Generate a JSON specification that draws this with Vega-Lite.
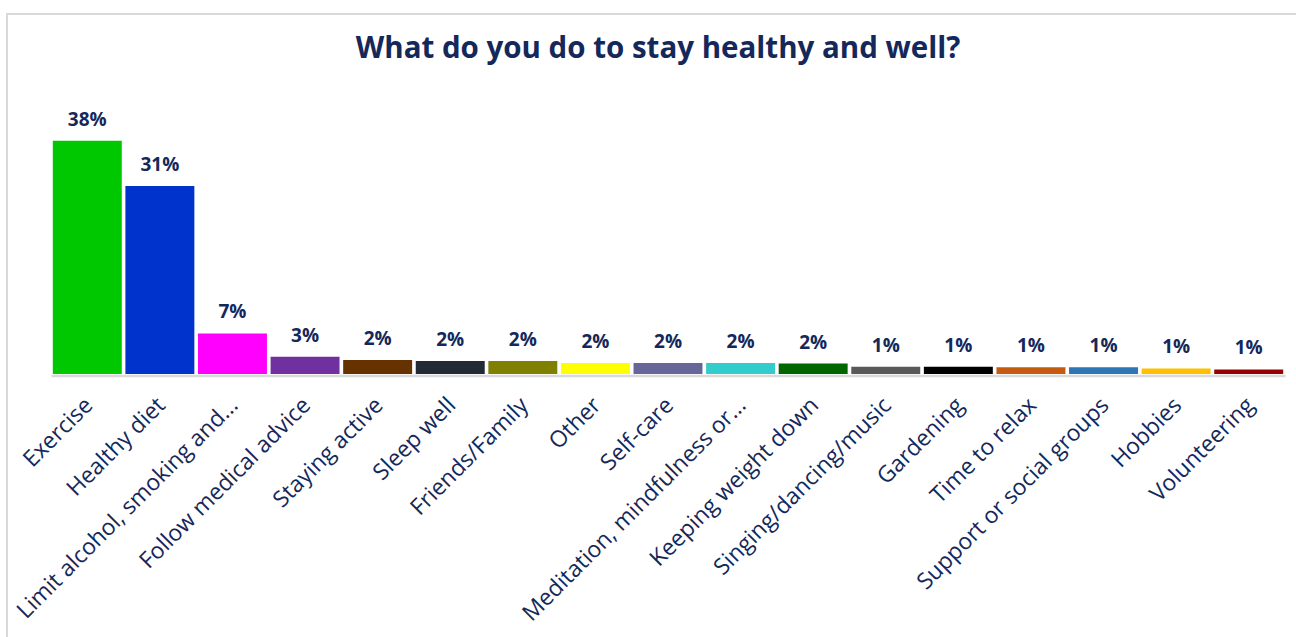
{
  "$schema": "https://vega.github.io/schema/vega-lite/v6.json",
  "autosize": "none",
  "width": 1292,
  "height": 626,
  "padding": {"left": 7, "top": 14, "right": -3, "bottom": -3},
  "background": "white",
  "config": {"view": {"stroke": "#D9D9D9", "strokeWidth": 2}},
  "title": {"text": "What do you do to stay healthy and well?", "font": "Open Sans", "fontSize": 29.5, "fontWeight": "bold", "color": "#14285A", "baseline": "alphabetic", "offset": -73, "anchor": "middle", "frame": "group", "dx": 5},
  "data": {"values": [
    {"cat": "Exercise", "v": 0.38},
    {"cat": "Healthy diet", "v": 0.306},
    {"cat": "Limit alcohol, smoking and...", "v": 0.066},
    {"cat": "Follow medical advice", "v": 0.028},
    {"cat": "Staying active", "v": 0.023},
    {"cat": "Sleep well", "v": 0.021},
    {"cat": "Friends/Family", "v": 0.021},
    {"cat": "Other", "v": 0.018},
    {"cat": "Self-care", "v": 0.018},
    {"cat": "Meditation, mindfulness or...", "v": 0.018},
    {"cat": "Keeping weight down", "v": 0.017},
    {"cat": "Singing/dancing/music", "v": 0.012},
    {"cat": "Gardening", "v": 0.012},
    {"cat": "Time to relax", "v": 0.011},
    {"cat": "Support or social groups", "v": 0.011},
    {"cat": "Hobbies", "v": 0.009},
    {"cat": "Volunteering", "v": 0.0075}
  ]},
  "encoding": {
    "x": {"field": "cat", "type": "nominal", "sort": null,
      "scale": {"range": [44, 1278], "paddingInner": 0.05, "paddingOuter": 0.025},
      "axis": {"title": null, "labelAngle": -45, "labelFont": "Open Sans", "labelFontSize": 22.8, "labelColor": "#14285A", "labelLimit": 500, "ticks": false, "domainColor": "#D9D9D9", "domainWidth": 2.5, "offset": -264.5, "labelPadding": 18, "labelOffset": -6}},
    "y": {"field": "v", "type": "quantitative", "scale": {"domain": [0, 0.5], "range": [360, 53]}, "axis": null}
  },
  "layer": [
    {"mark": {"type": "bar"},
     "encoding": {"color": {"field": "cat", "type": "nominal", "legend": null,
       "scale": {"domain": ["Exercise", "Healthy diet", "Limit alcohol, smoking and...", "Follow medical advice", "Staying active", "Sleep well", "Friends/Family", "Other", "Self-care", "Meditation, mindfulness or...", "Keeping weight down", "Singing/dancing/music", "Gardening", "Time to relax", "Support or social groups", "Hobbies", "Volunteering"],
                 "range": ["#00C800", "#0033CC", "#FF00FF", "#7030A0", "#663300", "#222A35", "#808000", "#FFFF00", "#666699", "#33CCCC", "#006600", "#595959", "#000000", "#C55A11", "#2E75B6", "#FFC000", "#990000"]}}}},
    {"mark": {"type": "text", "font": "Open Sans", "fontSize": 19, "fontWeight": "bold", "color": "#14285A", "baseline": "alphabetic", "dy": -15},
     "encoding": {"text": {"field": "v", "type": "quantitative", "format": ".0%"}}}
  ]
}
